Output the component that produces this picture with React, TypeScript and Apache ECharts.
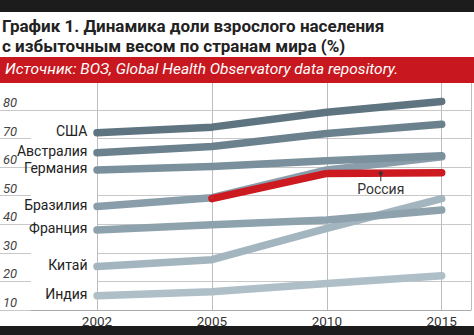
import React, { useEffect, useRef } from "react";
import * as echarts from "echarts";

const years = ["2002", "2005", "2010", "2015"];
const yTicks = [10, 20, 30, 40, 50, 60, 70, 80];

const usa = [72, 74, 79.2, 83];
const australia = [65, 67.2, 71.8, 75];
const germany = [59, 60.2, 62.2, 64];
const brazil = [46.2, 49.3, 59, 63.6];
const france = [38, 39.8, 41.5, 45];
const china = [25.2, 27.6, 38.6, 49];
const india = [15, 16.4, 19.3, 22];
const russia: (number | null)[] = [null, 49, 57.8, 58];

const seriesDefs = [
  { name: "Индия", values: india, color: "#aebfc8" },
  { name: "Китай", values: china, color: "#a3b5bf" },
  { name: "Франция", values: france, color: "#8ea2ad" },
  { name: "Бразилия", values: brazil, color: "#899daa" },
  { name: "Германия", values: germany, color: "#7a909c" },
  { name: "Австралия", values: australia, color: "#6b818e" },
  { name: "США", values: usa, color: "#5e7480" },
];

const FONT = "Roboto, 'DejaVu Sans', sans-serif";

export default function App() {
  const ref = useRef<HTMLDivElement>(null);
  useEffect(() => {
    if (!ref.current) return;
    const chart = echarts.init(ref.current, undefined, { renderer: "svg" });

    const lineSeries = seriesDefs.map((s) => ({
      type: "line",
      name: s.name,
      xAxisIndex: 0,
      yAxisIndex: 0,
      symbol: "circle",
      symbolSize: 1,
      showSymbol: true,
      itemStyle: { color: s.color },
      lineStyle: { color: s.color, width: 7.5, cap: "round", join: "round" },
      data: s.values.map((v, i) =>
        i === 0
          ? {
              value: [i, v],
              label: {
                show: true,
                position: "left",
                distance: 9,
                offset: [0, -2],
                formatter: s.name,
                fontFamily: FONT,
                fontSize: 14,
                color: "#222",
              },
            }
          : { value: [i, v] }
      ),
    }));

    const rusData = russia
      .map((v, i) => (v == null ? null : [i, v]))
      .filter((d) => d !== null);
    const annX = 2.47;
    const annY = (russia[2] as number) + ((russia[3] as number) - (russia[2] as number)) * (annX - 2);

    const option: any = {
      animation: false,
      grid: [
        { left: 97, right: -6, top: 82, bottom: 25 },
        { left: 0, width: 31, top: 110, bottom: 25 },
        { left: 31, width: 66, top: 110, bottom: 25 },
      ],
      xAxis: [
        {
          type: "value",
          gridIndex: 0,
          min: 0,
          max: (3 * 383) / 353,
          interval: 1,
          axisLine: { show: true, lineStyle: { color: "#aaa", width: 1 } },
          axisTick: { show: false },
          splitLine: { show: true, lineStyle: { color: "#bdbdbd", width: 1 } },
          axisLabel: {
            margin: 4,
            fontFamily: FONT,
            fontSize: 13.5,
            color: "#333",
            formatter: (v: number) => (Number.isInteger(v) && years[v] ? years[v] : ""),
          },
        },
        { type: "value", gridIndex: 1, show: false },
        {
          type: "value",
          gridIndex: 2,
          position: "top",
          axisLine: { show: true, lineStyle: { color: "#c8c8c8" } },
          axisTick: { show: false },
          axisLabel: { show: false },
          splitLine: { show: false },
        },
        {
          type: "value",
          gridIndex: 2,
          position: "bottom",
          axisLine: { show: true, lineStyle: { color: "#aaa" } },
          axisTick: { show: false },
          axisLabel: { show: false },
          splitLine: { show: false },
        },
      ],
      yAxis: [
        {
          type: "value",
          gridIndex: 0,
          min: 10,
          max: 10 + (70 * 228) / 200,
          interval: 10,
          axisLine: { show: false },
          axisTick: { show: false },
          axisLabel: { show: false },
          splitLine: { show: true, lineStyle: { color: "#c8c8c8" } },
        },
        {
          type: "value",
          gridIndex: 1,
          min: yTicks[0],
          max: yTicks[yTicks.length - 1],
          interval: 10,
          axisLine: { show: false },
          axisTick: { show: false },
          splitLine: { show: true, lineStyle: { color: "#c8c8c8" } },
          axisLabel: {
            inside: true,
            align: "left",
            verticalAlign: "bottom",
            margin: 3,
            padding: [0, 0, 1, 0],
            fontFamily: FONT,
            fontStyle: "italic",
            fontSize: 13,
            color: "#444",
          },
        },
        { type: "value", gridIndex: 2, min: 10, max: 80, show: false },
      ],
      series: [
        ...lineSeries,
        {
          type: "line",
          name: "Россия",
          xAxisIndex: 0,
          yAxisIndex: 0,
          symbol: "none",
          lineStyle: { color: "#cc1a20", width: 7.5, cap: "round", join: "round" },
          data: rusData,
          markPoint: {
            silent: true,
            data: [
              {
                coord: [annX, annY],
                symbol: "rect",
                symbolSize: [1, 8],
                symbolOffset: [0, 4],
                itemStyle: { color: "#333" },
                label: {
                  show: true,
                  position: "bottom",
                  distance: 1,
                  formatter: "Россия",
                  fontFamily: FONT,
                  fontSize: 14,
                  color: "#333",
                },
              },
              {
                coord: [annX, annY],
                symbol: "circle",
                symbolSize: 4,
                itemStyle: { color: "#333" },
                label: { show: false },
              },
            ],
          },
        },
      ],
      graphic: {
        elements: [
          { type: "rect", left: 0, top: 0, z: 100, shape: { width: 474, height: 12 }, style: { fill: "#1c1c1c" } },
          {
            type: "text",
            left: 2,
            top: 16,
            z: 100,
            style: {
              text: "График 1. Динамика доли взрослого населения\nс избыточным весом по странам мира (%)",
              fontFamily: FONT,
              fontWeight: "bold",
              fontSize: 17,
              lineHeight: 20,
              fill: "#222",
            },
          },
          { type: "rect", left: 0, top: 57, z: 100, shape: { width: 474, height: 26 }, style: { fill: "#c8171e" } },
          {
            type: "text",
            left: 5,
            top: 61,
            z: 101,
            style: {
              text: "Источник: ВОЗ, Global Health Observatory data repository.",
              fontFamily: FONT,
              fontStyle: "italic",
              fontSize: 15.5,
              fill: "#fff",
            },
          },
          { type: "rect", left: 0, top: 326, z: 100, shape: { width: 474, height: 9 }, style: { fill: "#1c1c1c" } },
        ],
      },
    };
    chart.setOption(option);
    return () => chart.dispose();
  }, []);
  return (
    <div
      ref={ref}
      style={{ position: "absolute", left: 0, top: 0, width: 474, height: 335, background: "#fff" }}
    />
  );
}
